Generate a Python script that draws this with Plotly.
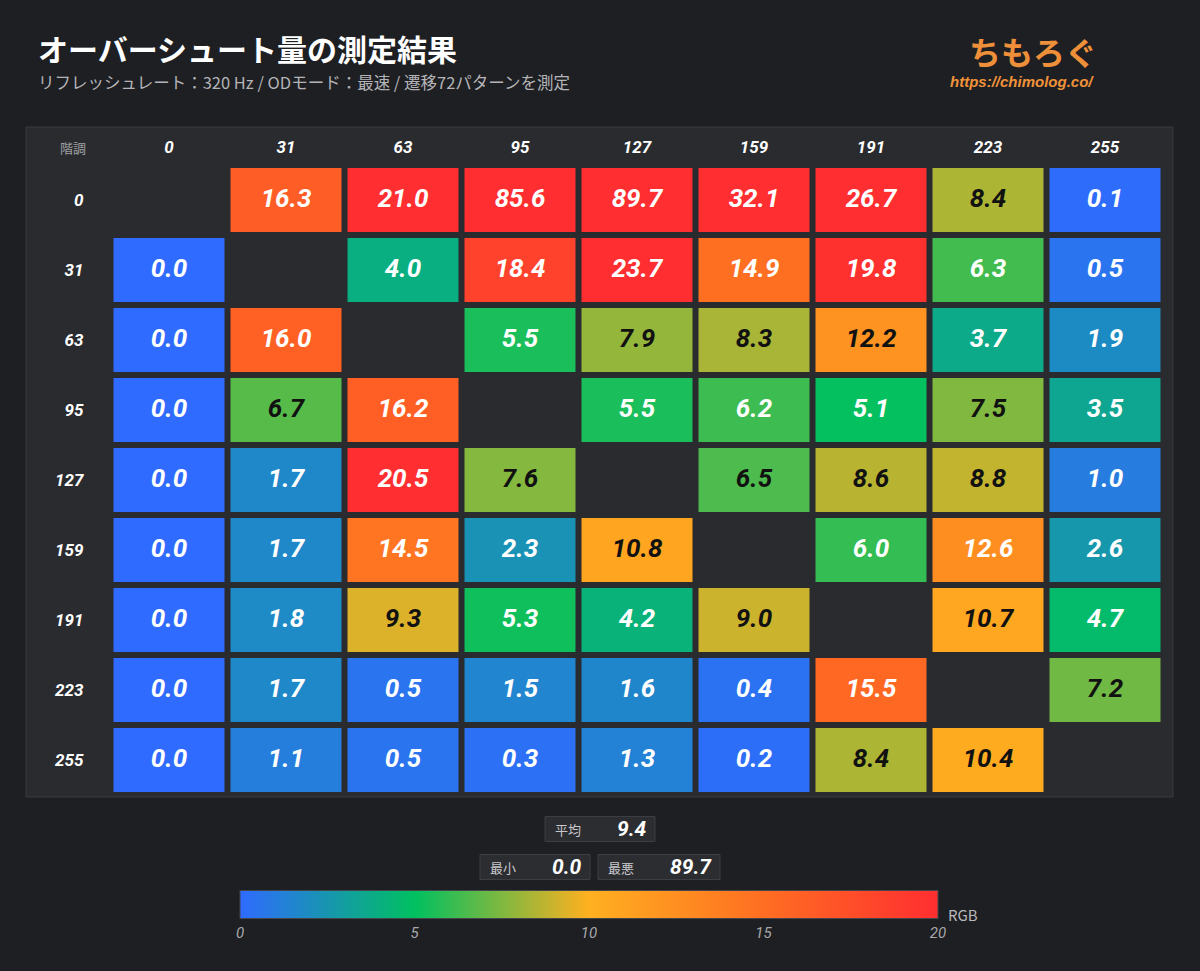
import plotly.graph_objects as go

# === DATA ===
levels = ["0", "31", "63", "95", "127", "159", "191", "223", "255"]
row_0 = [None, 16.3, 21.0, 85.6, 89.7, 32.1, 26.7, 8.4, 0.1]
row_31 = [0.0, None, 4.0, 18.4, 23.7, 14.9, 19.8, 6.3, 0.5]
row_63 = [0.0, 16.0, None, 5.5, 7.9, 8.3, 12.2, 3.7, 1.9]
row_95 = [0.0, 6.7, 16.2, None, 5.5, 6.2, 5.1, 7.5, 3.5]
row_127 = [0.0, 1.7, 20.5, 7.6, None, 6.5, 8.6, 8.8, 1.0]
row_159 = [0.0, 1.7, 14.5, 2.3, 10.8, None, 6.0, 12.6, 2.6]
row_191 = [0.0, 1.8, 9.3, 5.3, 4.2, 9.0, None, 10.7, 4.7]
row_223 = [0.0, 1.7, 0.5, 1.5, 1.6, 0.4, 15.5, None, 7.2]
row_255 = [0.0, 1.1, 0.5, 0.3, 1.3, 0.2, 8.4, 10.4, None]
colorbar_ticks = [0, 5, 10, 15, 20]

z = [row_0, row_31, row_63, row_95, row_127, row_159, row_191, row_223, row_255]

# === STYLE ===
W, H = 1200, 971
BG = "#1e1f22"
PANEL = "#2a2b2f"
NUM_FONT = "Roboto, Liberation Sans Narrow, sans-serif"
JP_FONT = "Noto Sans CJK JP, Noto Sans, sans-serif"

colorscale = [
    [0.0, "#2f6bff"],
    [0.25, "#00c060"],
    [0.5, "#ffb020"],
    [0.75, "#ff6e22"],
    [1.0, "#ff2e30"],
]

def px_x(p):
    return p / W

def px_y(p):
    return 1 - p / H

# split cell labels by text colour (dark text on mid-range colours)
wx, wy, wt, dx, dy, dt = [], [], [], [], [], []
values = []
for r, row in enumerate(z):
    for c, v in enumerate(row):
        if v is None:
            continue
        values.append(v)
        if 6.4 < v < 12.5:
            dx.append(levels[c]); dy.append(levels[r]); dt.append(f"{v:.1f}")
        else:
            wx.append(levels[c]); wy.append(levels[r]); wt.append(f"{v:.1f}")

avg_v = sum(values) / len(values)
min_v = min(values)
max_v = max(values)

fig = go.Figure()

fig.add_trace(go.Heatmap(
    z=z, x=levels, y=levels,
    zmin=0, zmax=20,
    colorscale=colorscale,
    xgap=6, ygap=6,
    hoverongaps=False,
    colorbar=dict(
        orientation="h",
        lenmode="pixels", len=698,
        thickness=28, thicknessmode="pixels",
        x=px_x(240), xanchor="left",
        y=px_y(914), yanchor="middle",
        xpad=0, ypad=0,
        outlinecolor="#45464b", outlinewidth=1,
        tickvals=colorbar_ticks,
        ticks="",
        tickfont=dict(family=NUM_FONT, size=15, color="#a8a8ac", style="italic"),
    ),
))

fig.add_trace(go.Scatter(
    x=wx, y=wy, text=wt, mode="text", hoverinfo="skip", showlegend=False,
    textfont=dict(family=NUM_FONT, size=26, color="white", weight="bold", style="italic"),
))
fig.add_trace(go.Scatter(
    x=dx, y=dy, text=dt, mode="text", hoverinfo="skip", showlegend=False,
    textfont=dict(family=NUM_FONT, size=26, color="#111111", weight="bold", style="italic"),
))

axis_font = dict(family=NUM_FONT, size=17, color="white", weight="bold", style="italic")

fig.update_layout(
    width=W, height=H,
    margin=dict(l=0, r=0, t=0, b=0),
    paper_bgcolor=BG, plot_bgcolor=PANEL,
    showlegend=False,
    xaxis=dict(
        domain=[px_x(110.5), px_x(1163.5)],
        side="top", type="category",
        showgrid=False, zeroline=False, showline=False,
        ticks="", tickfont=axis_font, ticklabelstandoff=8,
        fixedrange=True,
    ),
    yaxis=dict(
        domain=[px_y(795), px_y(165)],
        type="category", autorange="reversed",
        showgrid=False, zeroline=False, showline=False,
        ticks="", tickfont=axis_font, ticklabelstandoff=26,
        fixedrange=True,
    ),
)

shapes = [
    # table panel
    dict(type="rect", xref="paper", yref="paper", layer="below",
         x0=px_x(26), x1=px_x(1173), y0=px_y(797), y1=px_y(127),
         fillcolor=PANEL, line=dict(color="#38393e", width=1)),
]

stat_boxes = [
    ("平均", avg_v, 545, 655, 829),
    ("最小", min_v, 480, 590, 867),
    ("最悪", max_v, 598, 720, 867),
]

annotations = [
    dict(text="オーバーシュート量の測定結果", x=px_x(36), y=px_y(48),
         xref="paper", yref="paper", xanchor="left", yanchor="middle", showarrow=False,
         font=dict(family=JP_FONT, size=30, color="white", weight="bold")),
    dict(text="リフレッシュレート：320 Hz / ODモード：最速 / 遷移72パターンを測定",
         x=px_x(36), y=px_y(82), xref="paper", yref="paper", xanchor="left", yanchor="middle",
         showarrow=False, font=dict(family=JP_FONT, size=16.5, color="#b4b4b8")),
    dict(text="ちもろぐ", x=px_x(1033), y=px_y(51), xref="paper", yref="paper",
         xanchor="center", yanchor="middle", showarrow=False,
         font=dict(family=JP_FONT, size=32, color="#ee8f3a", weight="bold")),
    dict(text="https://chimolog.co/", x=px_x(1022), y=px_y(81), xref="paper", yref="paper",
         xanchor="center", yanchor="middle", showarrow=False,
         font=dict(family="Liberation Sans, Arial, sans-serif", size=15, color="#f0923a",
                   weight="bold", style="italic")),
    dict(text="階調", x=px_x(73), y=px_y(147), xref="paper", yref="paper",
         xanchor="center", yanchor="middle", showarrow=False,
         font=dict(family=JP_FONT, size=13, color="#a0a0a4")),
    dict(text="RGB", x=px_x(946), y=px_y(914), xref="paper", yref="paper",
         xanchor="left", yanchor="middle", showarrow=False,
         font=dict(family=JP_FONT, size=15, color="#b8b8bc")),
]

for label, val, x0, x1, yc in stat_boxes:
    shapes.append(dict(type="rect", xref="paper", yref="paper",
                       x0=px_x(x0), x1=px_x(x1), y0=px_y(yc + 12.5), y1=px_y(yc - 12.5),
                       fillcolor="#2c2d31", line=dict(color="#3d3e43", width=1)))
    annotations.append(dict(text=label, x=px_x(x0 + 8), y=px_y(yc), xref="paper", yref="paper",
                            xanchor="left", yanchor="middle", showarrow=False,
                            font=dict(family=JP_FONT, size=13, color="#c8c8cc")))
    annotations.append(dict(text=f"{val:.1f}", x=px_x(x1 - 6), y=px_y(yc), xref="paper", yref="paper",
                            xanchor="right", yanchor="middle", showarrow=False,
                            font=dict(family=NUM_FONT, size=21, color="white",
                                      weight="bold", style="italic")))

fig.update_layout(shapes=shapes, annotations=annotations)

# page has a default body margin; drop it so the figure sits at the window origin
fig.write_html("out.html", config={"displayModeBar": False},
               post_script="document.body.style.margin='0';")
